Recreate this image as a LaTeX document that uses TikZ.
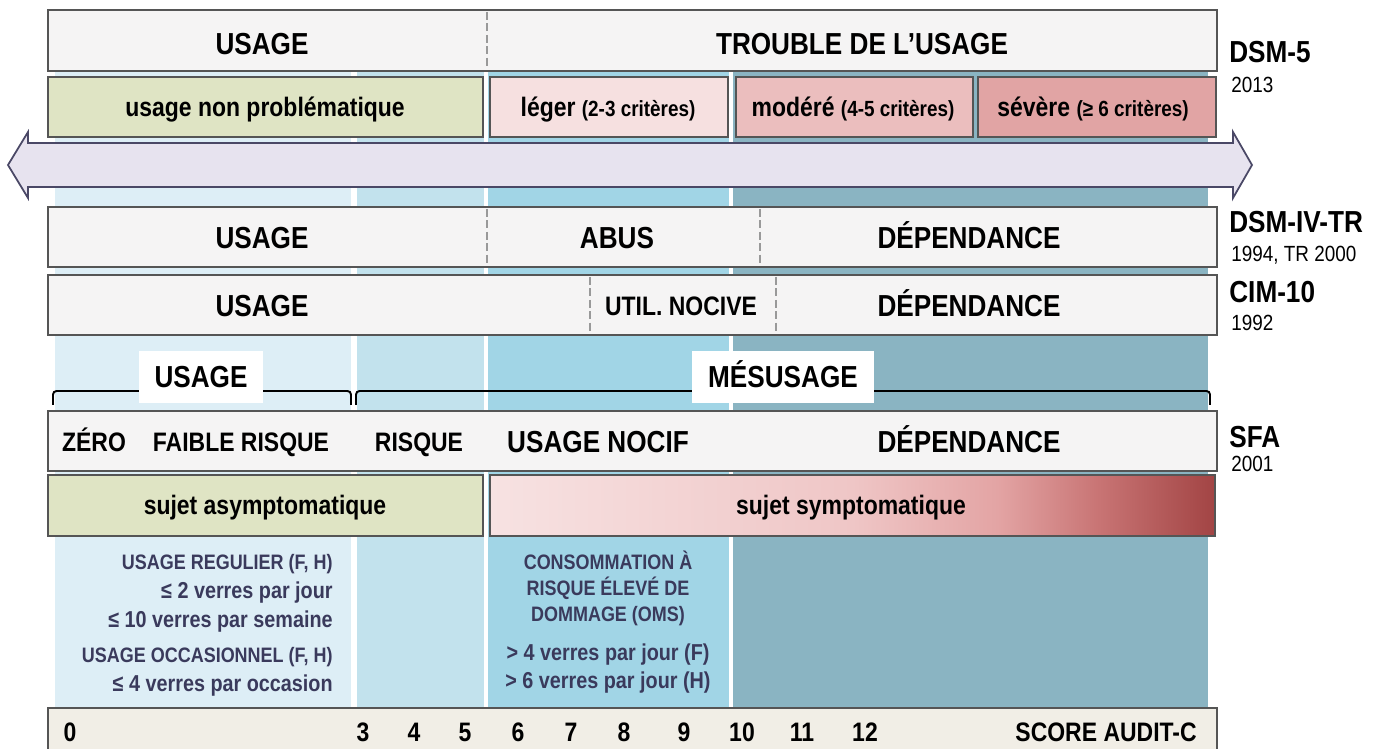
\documentclass[tikz,border=0pt]{standalone}
\usepackage{fontspec}
\setmainfont{Liberation Sans}[FakeStretch=0.86]
\usepackage{tikz}
\usetikzlibrary{positioning}

\definecolor{bandA}{HTML}{DDEEF6}
\definecolor{bandB}{HTML}{C2E2ED}
\definecolor{bandC}{HTML}{A1D5E6}
\definecolor{bandD}{HTML}{8AB4C2}
\definecolor{boxfill}{HTML}{F5F4F4}
\definecolor{boxline}{HTML}{555555}
\definecolor{greenfill}{HTML}{DFE4C4}
\definecolor{legerfill}{HTML}{F6E0E0}
\definecolor{moderefill}{HTML}{EBBEBE}
\definecolor{severefill}{HTML}{E1A4A4}
\definecolor{arrowfill}{HTML}{E7E3EF}
\definecolor{arrowline}{HTML}{4A4866}
\definecolor{scorefill}{HTML}{F1EEE6}
\definecolor{notecol}{HTML}{3A3A5C}
\definecolor{dashcol}{HTML}{999999}
\definecolor{symA}{HTML}{F7E2E2}
\definecolor{symB}{HTML}{EFC6C6}
\definecolor{symC}{HTML}{E3A4A4}
\definecolor{symD}{HTML}{C87474}
\definecolor{symE}{HTML}{A24444}
\pgfdeclarehorizontalshading{symptome}{100bp}{color(0bp)=(symA); color(25bp)=(symA); color(50bp)=(symB); color(60bp)=(symC); color(67bp)=(symD); color(75bp)=(symE); color(100bp)=(symE)}
\newcommand\critsize{\fontsize{12.5}{14}\selectfont}

\begin{document}
\begin{tikzpicture}[x=0.02cm,y=-0.02cm,
  bar/.style={draw=boxline,line width=0.7pt,fill=boxfill},
  sepline/.style={dashcol,line width=1.4pt,dash pattern=on 4.5pt off 2pt},
  brace/.style={line width=1.1pt,rounded corners=2},
  bigtxt/.style={font=\fontsize{17.3}{19}\selectfont\bfseries,text height=12.4pt,text depth=0pt,inner sep=0pt},
  midtxt/.style={font=\fontsize{15.2}{17}\selectfont\bfseries,text height=10.9pt,text depth=0pt,inner sep=0pt},
  notetxt/.style={font=\fontsize{13.1}{15}\selectfont\bfseries,text height=9.4pt,text depth=0pt,inner sep=0pt,text=notecol},
  notecaps/.style={font=\fontsize{11.9}{14}\selectfont\bfseries,text height=8.5pt,text depth=0pt,inner sep=0pt,text=notecol},
  yeartxt/.style={font=\fontsize{12.5}{14}\selectfont,text height=9pt,text depth=0pt,inner sep=0pt,anchor=west},
  normlabel/.style={bigtxt,anchor=west},
  brlabel/.style={bigtxt,fill=white,minimum height=29.5pt}]
\useasboundingbox (0,0) rectangle (1382,749);

% colonnes de fond
\foreach \xa/\xb/\col in {55/351/bandA,357/484/bandB,488/729/bandC,733/1208/bandD}
  \fill[\col] (\xa,60) rectangle (\xb,708);

% DSM-5
\draw[bar] (48,10) rectangle (1217,71);
\draw[sepline] (487,12) -- (487,69);
\node[bigtxt] (dsmusage) at (262,44) {USAGE};
\node[bigtxt] (dsmtrouble) at (862,44) {TROUBLE DE L'USAGE};
\draw[bar,fill=greenfill] (48,77) rectangle (483,137);
\draw[bar,fill=legerfill] (490,77) rectangle (728,137);
\draw[bar,fill=moderefill] (736,77) rectangle (973,137);
\draw[bar,fill=severefill] (978,77) rectangle (1216,137);
\node[midtxt] (nonprob) at (265,107) {usage non problématique};
\node[midtxt] (leger) at (608,107) {léger {\critsize(2-3 critères)}};
\node[midtxt] (modere) at (853,107) {modéré {\critsize(4-5 critères)}};
\node[midtxt] (severe) at (1093,107) {sévère {\critsize(≥ 6 critères)}};

% double fleche
\draw[arrowline,fill=arrowfill,line width=1pt,line join=miter]
  (8,165) -- (28,132) -- (28,143) -- (1233,143) -- (1233,132) -- (1252,165)
  -- (1233,198) -- (1233,187) -- (28,187) -- (28,198) -- cycle;

% DSM-IV-TR
\draw[bar] (48,207) rectangle (1217,267);
\draw[sepline] (487,209) -- (487,265);
\draw[sepline] (760,209) -- (760,265);
\node[bigtxt] (ivusage) at (262,238) {USAGE};
\node[bigtxt] (ivabus) at (617,238) {ABUS};
\node[bigtxt] (ivdep) at (969,238) {DÉPENDANCE};

% CIM-10
\draw[bar] (48,275) rectangle (1217,335);
\draw[sepline] (590,277) -- (590,333);
\draw[sepline] (776,277) -- (776,333);
\node[bigtxt] (cimusage) at (262,306) {USAGE};
\node[midtxt] (cimnocive) at (681,306) {UTIL. NOCIVE};
\node[bigtxt] (cimdep) at (969,306) {DÉPENDANCE};

% accolades
\draw[brace] (53,405) -- (53,391) -- (351,391) -- (351,405);
\draw[brace] (356,405) -- (356,391) -- (1210,391) -- (1210,405);
\node[brlabel,minimum width=71pt] (brusage) at (201,377) {USAGE};
\node[brlabel,minimum width=103.5pt] (brmesusage) at (783,377) {MÉSUSAGE};

% SFA
\draw[bar] (48,411) rectangle (1217,471);
\node[midtxt] (sfazero) at (94,442) {ZÉRO};
\node[midtxt] (sfafaible) at (241,442) {FAIBLE RISQUE};
\node[midtxt] (sfarisque) at (419,442) {RISQUE};
\node[bigtxt] (sfanocif) at (598,442) {USAGE NOCIF};
\node[bigtxt] (sfadep) at (969,442) {DÉPENDANCE};
\draw[bar,fill=greenfill] (48,475) rectangle (483,536);
\shade[shading=symptome] (490,475) rectangle (1215,536);
\draw[boxline,line width=0.7pt] (490,475) rectangle (1215,536);
\node[midtxt] (asympto) at (265,505) {sujet asymptomatique};
\node[midtxt] (sympto) at (851,505) {sujet symptomatique};

% reperes de consommation
\node[notecaps,anchor=east] (regulier) at (333,562) {USAGE REGULIER (F, H)};
\node[notetxt,anchor=east] (jour) at (333,590) {≤ 2 verres par jour};
\node[notetxt,anchor=east] (semaine) at (333,619) {≤ 10 verres par semaine};
\node[notecaps,anchor=east] (occas) at (333,655) {USAGE OCCASIONNEL (F, H)};
\node[notetxt,anchor=east] (occasion) at (333,683) {≤ 4 verres par occasion};
\node[notecaps] (oms1) at (608,562) {CONSOMMATION À};
\node[notecaps] (oms2) at (608,588) {RISQUE ÉLEVÉ DE};
\node[notecaps] (oms3) at (608,614) {DOMMAGE (OMS)};
\node[notetxt] (omsf) at (608,652) {> 4 verres par jour (F)};
\node[notetxt] (omsh) at (608,680) {> 6 verres par jour (H)};

% score AUDIT-C
\draw[bar,fill=scorefill] (48,708) rectangle (1217,760);
\foreach \n/\x in {0/70,3/363,4/414,5/465,6/518,7/571,8/624,9/684,10/742,11/802,12/865}
  \node[midtxt] (score\n) at (\x,732) {\n};
\node[midtxt,anchor=east] (audit) at (1197,732) {SCORE AUDIT-C};

% classifications
\node[normlabel] (dsm5) at (1229,52) {DSM-5};
\node[yeartxt] (y2013) at (1231,85) {2013};
\node[normlabel] (dsm4) at (1229,222) {DSM-IV-TR};
\node[yeartxt] (y1994) at (1231,254) {1994, TR 2000};
\node[normlabel] (cim) at (1229,292) {CIM-10};
\node[yeartxt] (y1992) at (1231,323) {1992};
\node[normlabel] (sfa) at (1229,437) {SFA};
\node[yeartxt] (y2001) at (1231,464) {2001};
\end{tikzpicture}
\end{document}
